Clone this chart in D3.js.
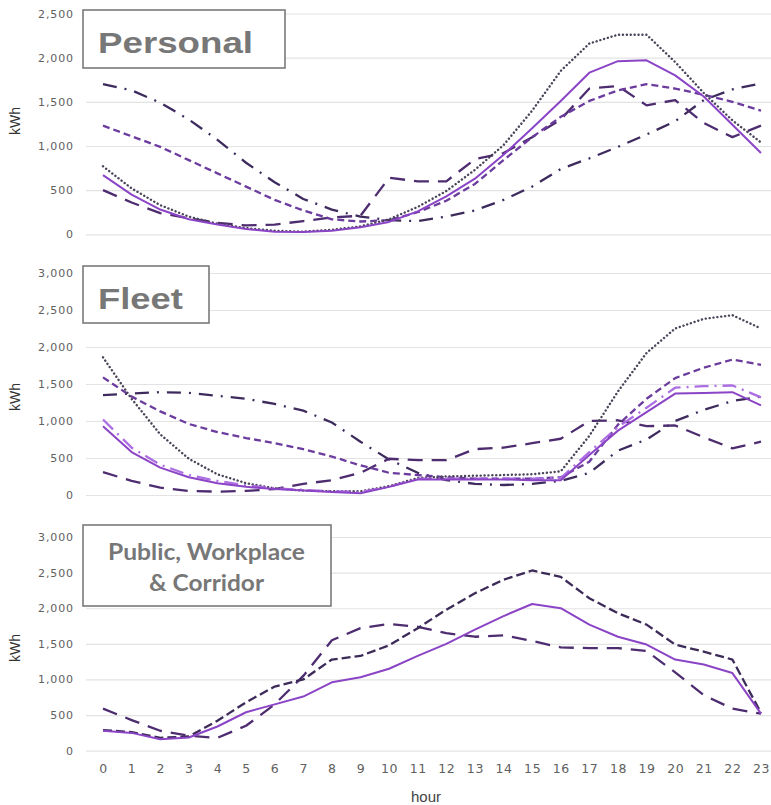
<!DOCTYPE html>
<html>
<head>
<meta charset="utf-8">
<script src="https://cdn.jsdelivr.net/npm/d3@7"></script>
<style>
  html, body { margin: 0; padding: 0; background: #ffffff; }
  svg { display: block; }
</style>
</head>
<body>
<svg id="chart" width="771" height="805"></svg>
<script>
// ---------- DATA ----------
const hours = [0,1,2,3,4,5,6,7,8,9,10,11,12,13,14,15,16,17,18,19,20,21,22,23];

const personalTicks = [0, 500, 1000, 1500, 2000, 2500];
const fleetTicks = [0, 500, 1000, 1500, 2000, 2500, 3000];
const publicTicks = [0, 500, 1000, 1500, 2000, 2500, 3000];

// Personal
const personalDashDot  = [1700,1630,1490,1300,1070,810,590,400,280,200,160,150,200,270,390,540,740,860,990,1130,1280,1520,1640,1710];
const personalLongDash = [500,360,240,180,130,100,110,150,190,210,640,600,600,850,920,1100,1300,1650,1680,1460,1520,1260,1100,1230];
const personalShortDash= [1230,1110,990,840,690,540,390,270,170,145,160,250,380,570,840,1100,1330,1510,1630,1700,1650,1580,1500,1400];
const personalDotted   = [770,520,330,200,120,70,40,30,50,90,170,310,490,730,1010,1400,1850,2160,2260,2260,1950,1600,1290,1040];
const personalSolid    = [670,450,280,170,110,60,30,25,40,80,140,260,430,630,900,1200,1510,1830,1960,1970,1800,1560,1240,920];

// Fleet
const fleetDashDot   = [1350,1370,1390,1380,1340,1300,1230,1140,980,720,480,300,200,150,135,150,190,300,600,750,1000,1150,1270,1330];
const fleetLongDash  = [310,190,100,55,45,55,80,150,200,300,490,470,470,620,640,700,760,1000,1010,930,940,780,630,720];
const fleetShortDash = [1590,1330,1130,960,850,770,700,620,520,400,300,270,240,220,220,220,240,450,950,1300,1580,1720,1830,1760];
const fleetDotted    = [1860,1300,820,490,280,160,90,60,50,50,120,230,250,260,270,280,320,800,1400,1920,2250,2380,2430,2250];
const fleetLight     = [1020,640,410,270,190,130,90,70,50,40,110,220,220,220,220,220,230,580,920,1180,1450,1470,1480,1320];
const fleetSolid     = [930,580,370,240,160,110,80,60,40,25,110,210,210,210,210,200,200,540,870,1120,1370,1380,1390,1210];

// Public, Workplace & Corridor
const publicLongDash = [590,430,280,210,180,350,650,1050,1550,1720,1780,1740,1650,1600,1620,1540,1450,1440,1440,1400,1100,780,590,520];
const publicDashed   = [290,260,180,200,420,680,900,1000,1280,1330,1480,1720,1980,2210,2400,2530,2440,2140,1930,1770,1490,1390,1280,530];
const publicSolid    = [280,250,160,185,340,540,650,760,960,1030,1150,1330,1500,1700,1890,2060,2000,1770,1600,1490,1280,1210,1090,520];

// ---------- STYLES ----------
const STY = {
  dashdot:  { color: "#3e2b5e", dash: "14,8,2,8", width: 2.3, cap: "butt" },
  longdash: { color: "#4d2c70", dash: "15,9", width: 2.3, cap: "butt" },
  short:    { color: "#6b3c9e", dash: "7,4", width: 2.3, cap: "butt" },
  dotted:   { color: "#4a4458", dash: "0.1,3.8", width: 2.4, cap: "round" },
  light:    { color: "#ad6ee3", dash: "14,6,2,6", width: 2.3, cap: "butt" },
  solid:    { color: "#8b44c6", dash: null, width: 2, cap: "butt" },
  dashed:   { color: "#3c2b58", dash: "9,4", width: 2.3, cap: "butt" }
};

const panels = [
  { top: 13.5, bottom: 234.3, max: 2500, ticks: personalTicks,
    series: [[personalDashDot,"dashdot"],[personalLongDash,"longdash"],[personalShortDash,"short"],[personalDotted,"dotted"],[personalSolid,"solid"]],
    box: {x:83, y:10, w:202, h:58}, lines: ["Personal"], kind: "arial", kwhY: 121 },
  { top: 273, bottom: 495, max: 3000, ticks: fleetTicks,
    series: [[fleetDashDot,"dashdot"],[fleetLongDash,"longdash"],[fleetShortDash,"short"],[fleetDotted,"dotted"],[fleetLight,"light"],[fleetSolid,"solid"]],
    box: {x:83, y:266, w:126, h:57}, lines: ["Fleet"], kind: "arial", kwhY: 397 },
  { top: 537, bottom: 750.7, max: 3000, ticks: publicTicks,
    series: [[publicLongDash,"longdash"],[publicDashed,"dashed"],[publicSolid,"solid"]],
    box: {x:83, y:525, w:248, h:81}, lines: ["Public, Workplace","& Corridor"], kind: "calibri", kwhY: 648 }
];

const svg = d3.select("#chart");
const x = d3.scaleLinear().domain([0, 23]).range([103, 761]);
const gridLeft = 86, gridRight = 771;

panels.forEach(p => {
  const y = d3.scaleLinear().domain([0, p.max]).range([p.bottom, p.top]);

  // grid + y tick labels
  const ax = svg.append("g")
    .attr("transform", `translate(${gridLeft},0)`)
    .call(d3.axisLeft(y).tickValues(p.ticks).tickFormat(d3.format(",")).tickSize(-(gridRight - gridLeft)).tickPadding(12));
  ax.select(".domain").remove();
  ax.selectAll(".tick line").attr("stroke", "#e3e3e3").attr("stroke-width", 1.2);
  ax.selectAll(".tick text")
    .attr("fill", "#606060")
    .style("font-family", "'DejaVu Sans', sans-serif")
    .style("font-size", "11px")
    .style("letter-spacing", "0.9px");

  // kWh label
  svg.append("text")
    .attr("transform", `translate(20,${p.kwhY}) rotate(-90)`)
    .attr("text-anchor", "middle")
    .attr("fill", "#333")
    .style("font-family", "'Liberation Sans', Arial, sans-serif")
    .style("font-size", "14px")
    .text("kWh");

  // lines
  const line = d3.line().x((d, i) => x(hours[i])).y(d => y(d));
  p.series.forEach(([vals, key]) => {
    const s = STY[key];
    const path = svg.append("path")
      .datum(vals)
      .attr("d", line)
      .attr("fill", "none")
      .attr("stroke", s.color)
      .attr("stroke-width", s.width)
      .attr("stroke-linejoin", "round")
      .attr("stroke-linecap", s.cap);
    if (s.dash) path.attr("stroke-dasharray", s.dash);
  });

  // title box
  svg.append("rect")
    .attr("x", p.box.x).attr("y", p.box.y)
    .attr("width", p.box.w).attr("height", p.box.h)
    .attr("fill", "#fff").attr("stroke", "#7a7a7a").attr("stroke-width", 1.6);

  if (p.kind === "arial") {
    const len = p.lines[0] === "Personal" ? 155 : 85;
    svg.append("text")
      .attr("x", 98).attr("y", p.box.y + 43)
      .attr("fill", "#777")
      .attr("textLength", len).attr("lengthAdjust", "spacingAndGlyphs")
      .style("font-family", "'Liberation Sans', Arial, sans-serif")
      .style("font-weight", "bold")
      .style("font-size", "30px")
      .text(p.lines[0]);
  } else {
    const lens = [197, 115];
    const bases = [560, 591];
    p.lines.forEach((t, i) => {
      svg.append("text")
        .attr("x", 206.5).attr("y", bases[i])
        .attr("text-anchor", "middle")
        .attr("fill", "#777")
        .attr("textLength", lens[i]).attr("lengthAdjust", "spacingAndGlyphs")
        .style("font-family", "Lato, 'Open Sans', sans-serif")
        .style("font-weight", "bold")
        .style("font-size", "22px")
        .text(t);
    });
  }

  // x axis labels on the last panel
  if (p === panels[2]) {
    const xa = svg.append("g")
      .attr("transform", `translate(0,${p.bottom})`)
      .call(d3.axisBottom(x).tickValues(hours).tickFormat(d3.format("d")).tickSize(0).tickPadding(13));
    xa.select(".domain").remove();
    xa.selectAll(".tick text")
      .attr("fill", "#606060")
      .style("font-family", "'DejaVu Sans', sans-serif")
      .style("font-size", "12.5px")
      .style("letter-spacing", "0.6px");
    svg.append("text")
      .attr("x", 426).attr("y", 802)
      .attr("text-anchor", "middle")
      .attr("fill", "#444")
      .style("font-family", "'Liberation Sans', Arial, sans-serif")
      .style("font-size", "15px")
      .text("hour");
  }
});
</script>
</body>
</html>
